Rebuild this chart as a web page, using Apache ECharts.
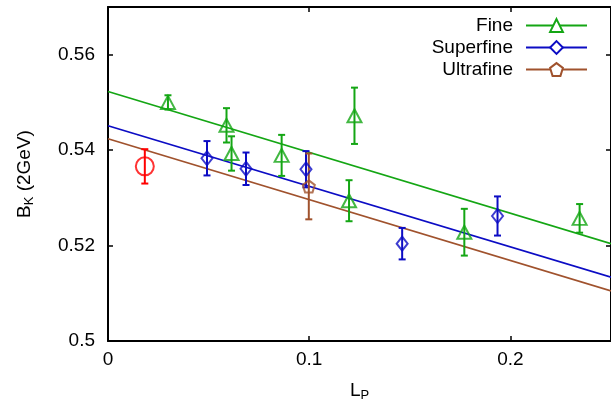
<!DOCTYPE html>
<html>
<head>
<meta charset="utf-8">
<script src="https://cdn.jsdelivr.net/npm/echarts@6/dist/echarts.min.js"></script>
<style>html,body{margin:0;padding:0;background:#fff;}#c{width:611px;height:410px;}</style>
</head>
<body>
<div id="c"></div>
<script>
// ---- data ----
const fineX   = [0.0298, 0.0589, 0.0614, 0.0863, 0.1198, 0.1225, 0.1771, 0.2344];
const fineY   = [0.5500, 0.5452, 0.5393, 0.5389, 0.5294, 0.5472, 0.5228, 0.5257];
const fineErr = [0.0015, 0.0036, 0.0036, 0.0043, 0.0043, 0.0059, 0.0049, 0.0030];

const superX   = [0.0492, 0.0686, 0.0984, 0.1462, 0.1936];
const superY   = [0.5383, 0.5361, 0.5360, 0.5204, 0.5262];
const superErr = [0.0036, 0.0034, 0.0038, 0.0033, 0.0041];

const ultraX   = [0.0998];
const ultraY   = [0.5324];
const ultraErr = [0.0069];

const contX   = [0.0183];
const contY   = [0.5366];
const contErr = [0.0036];

const fitX     = [0, 0.25];
const fineFit  = [0.5523, 0.5204];
const superFit = [0.5451, 0.5134];
const ultraFit = [0.5424, 0.5105];

const seriesNames = ['Fine', 'Superfine', 'Ultrafine'];
const xTicks = [0, 0.1, 0.2];
const yTicks = [0.5, 0.52, 0.54, 0.56];

// ---- styling ----
const FONT = 'Liberation Sans, Arial, Helvetica, sans-serif';
const GREEN = '#14a614', BLUE = '#0c0cc4', BROWN = '#a0522d', RED = '#ff0000';
const pentagon = 'path://M0,-1L0.951,-0.309L0.588,0.809L-0.588,0.809L-0.951,-0.309Z';

function pts(xs, ys) { return xs.map((x, i) => [x, ys[i]]); }
function errPts(xs, ys, es) { return xs.map((x, i) => [x, ys[i], es[i]]); }

function errSeries(xs, ys, es, color) {
  return {
    type: 'custom', silent: true, z: 3,
    data: errPts(xs, ys, es),
    encode: { x: 0, y: 1 },
    renderItem: function (params, api) {
      const x = api.value(0), y = api.value(1), e = api.value(2);
      const t = api.coord([x, y + e]), b = api.coord([x, y - e]);
      const cw = 3.5;
      const st = { stroke: color, lineWidth: 2 };
      return { type: 'group', children: [
        { type: 'line', shape: { x1: t[0], y1: t[1], x2: b[0], y2: b[1] }, style: st },
        { type: 'line', shape: { x1: t[0] - cw, y1: t[1], x2: t[0] + cw, y2: t[1] }, style: st },
        { type: 'line', shape: { x1: b[0] - cw, y1: b[1], x2: b[0] + cw, y2: b[1] }, style: st }
      ]};
    }
  };
}

function fitSeries(name, ys, color, symbol) {
  return {
    name: name, type: 'line', data: pts(fitX, ys), z: 2,
    symbol: symbol, showSymbol: false, silent: true,
    lineStyle: { color: color, width: 1.7 },
    itemStyle: { color: '#fff', borderColor: color, borderWidth: 2 },
    emphasis: { disabled: true }
  };
}

function markSeries(xs, ys, color, symbol, size) {
  return {
    type: 'scatter', data: pts(xs, ys), z: 4, silent: true,
    symbol: symbol, symbolSize: size,
    itemStyle: { color: 'transparent', borderColor: color, borderWidth: 2 },
    emphasis: { disabled: true }
  };
}

const axisCommon = {
  axisLine: { show: true, onZero: false, lineStyle: { color: '#000', width: 2 } },
  axisTick: { show: true, inside: true, length: 5, lineStyle: { color: '#000', width: 1.5 } },
  splitLine: { show: false },
  minorTick: { show: false }
};

const chart = echarts.init(document.getElementById('c'), null, { renderer: 'canvas' });
chart.setOption({
  animation: false,
  backgroundColor: '#fff',
  textStyle: { fontFamily: FONT },
  grid: { left: 108, right: -3, top: 7, bottom: 69, containLabel: false },
  legend: {
    data: seriesNames,
    orient: 'vertical', align: 'right',
    right: 18, top: 11,
    itemWidth: 61, itemHeight: 16, itemGap: 3,
    selectedMode: false,
    textStyle: { fontSize: 19, color: '#000', fontFamily: FONT, padding: [0, 8, 0, 0] }
  },
  xAxis: [
    Object.assign({}, axisCommon, {
      type: 'value', min: xTicks[0], max: 0.25, interval: 0.1, position: 'bottom',
      axisLabel: { show: true, fontSize: 19, color: '#000', fontFamily: FONT, margin: 9, showMaxLabel: false,
        formatter: v => (xTicks.some(t => Math.abs(t - v) < 1e-9) ? String(+v.toFixed(2)) : '') },
      name: '{b|L}{s|P}', nameLocation: 'middle', nameGap: 39,
      nameTextStyle: { rich: {
        b: { fontSize: 19, color: '#000', fontFamily: FONT, lineHeight: 22 },
        s: { fontSize: 13, color: '#000', fontFamily: FONT, lineHeight: 10, verticalAlign: 'bottom' }
      } }
    }),
    Object.assign({}, axisCommon, {
      type: 'value', min: xTicks[0], max: 0.25, interval: 0.1, position: 'top',
      axisLabel: { show: false }
    })
  ],
  yAxis: [
    Object.assign({}, axisCommon, {
      type: 'value', min: yTicks[0], max: 0.57, interval: 0.02, position: 'left',
      axisLabel: { show: true, fontSize: 19, color: '#000', fontFamily: FONT, margin: 13, showMaxLabel: false,
        formatter: v => (yTicks.some(t => Math.abs(t - v) < 1e-9) ? String(+v.toFixed(2)) : '') },
      name: '{b|B}{s|K}{b| (2GeV)}', nameLocation: 'middle', nameGap: 72,
      nameTextStyle: { rich: {
        b: { fontSize: 19, color: '#000', fontFamily: FONT, lineHeight: 22 },
        s: { fontSize: 13, color: '#000', fontFamily: FONT, lineHeight: 10, verticalAlign: 'bottom' }
      } }
    }),
    Object.assign({}, axisCommon, {
      type: 'value', min: yTicks[0], max: 0.57, interval: 0.02, position: 'right',
      axisLabel: { show: false }
    })
  ],
  series: [
    fitSeries('Fine', fineFit, GREEN, 'triangle'),
    fitSeries('Superfine', superFit, BLUE, 'diamond'),
    fitSeries('Ultrafine', ultraFit, BROWN, pentagon),
    errSeries(fineX, fineY, fineErr, GREEN),
    errSeries(superX, superY, superErr, BLUE),
    errSeries(ultraX, ultraY, ultraErr, BROWN),
    errSeries(contX, contY, contErr, RED),
    markSeries(fineX, fineY, GREEN, 'triangle', [14, 13]),
    markSeries(superX, superY, BLUE, 'diamond', [11, 14]),
    markSeries(ultraX, ultraY, BROWN, pentagon, 12),
    markSeries(contX, contY, RED, 'circle', 18)
  ]
});
</script>
</body>
</html>
